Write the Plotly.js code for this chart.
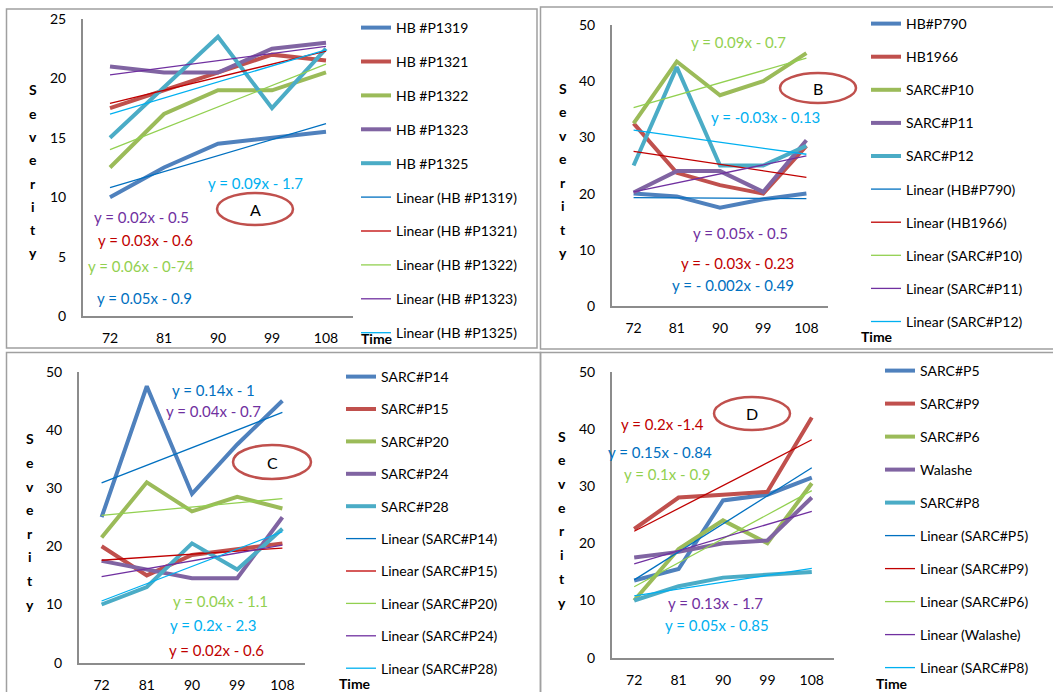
<!DOCTYPE html>
<html>
<head>
<meta charset="utf-8">
<script src="https://cdn.plot.ly/plotly-3.0.1.min.js"></script>
<style>html,body{margin:0;padding:0;background:#fff;}#chart{width:1053px;height:692px;}</style>
</head>
<body>
<div id="chart"></div>
<script>
// ---------- DATA ----------
const categories = ['72', '81', '90', '99', '108'];

// Panel A
const namesA = ['HB #P1319', 'HB #P1321', 'HB #P1322', 'HB #P1323', 'HB #P1325'];
const hbP1319 = [10, 12.5, 14.5, 15, 15.5];
const hbP1321 = [17.5, 19, 20.5, 22, 21.5];
const hbP1322 = [12.5, 17, 19, 19, 20.5];
const hbP1323 = [21, 20.5, 20.5, 22.5, 23];
const hbP1325 = [15, 19.3, 23.5, 17.5, 22.5];
const trendA = [[10.8, 16.2], [17.9, 22.3], [14.0, 21.2], [20.3, 22.7], [17.0, 22.4]];
const eqA = ['y = 0.05x - 0.9', 'y = 0.03x - 0.6', 'y = 0.06x - 0-74', 'y = 0.02x - 0.5', 'y = 0.09x - 1.7'];

// Panel B
const namesB = ['HB#P790', 'HB1966', 'SARC#P10', 'SARC#P11', 'SARC#P12'];
const hbP790 = [20, 19.5, 17.5, 19, 20];
const hb1966 = [32.5, 23.7, 21.5, 20, 28.5];
const sarcP10 = [32.5, 43.5, 37.5, 40, 45];
const sarcP11 = [20.2, 24, 24, 20.3, 29.5];
const sarcP12 = [25, 42.5, 25, 25, 28.5];
const trendB = [[19.3, 19.1], [27.5, 22.9], [35.3, 44.1], [20.3, 26.7], [31.3, 27.0]];
const eqB = ['y = - 0.002x - 0.49', 'y = - 0.03x - 0.23', 'y = 0.09x - 0.7', 'y = 0.05x - 0.5', 'y = -0.03x - 0.13'];

// Panel C
const namesC = ['SARC#P14', 'SARC#P15', 'SARC#P20', 'SARC#P24', 'SARC#P28'];
const sarcP14 = [25, 47.5, 29, 37.5, 45];
const sarcP15 = [20, 15, 18.5, 19.5, 20.5];
const sarcP20 = [21.5, 31, 26, 28.5, 26.5];
const sarcP24 = [17.5, 16, 14.5, 14.5, 25];
const sarcP28 = [10, 13, 20.5, 16, 23];
const trendC = [[30.9, 43.0], [17.6, 19.7], [25.3, 28.2], [14.8, 20.2], [10.6, 22.5]];
const eqC = ['y = 0.14x - 1', 'y = 0.02x - 0.6', 'y = 0.04x - 1.1', 'y = 0.04x - 0.7', 'y = 0.2x - 2.3'];

// Panel D
const namesD = ['SARC#P5', 'SARC#P9', 'SARC#P6', 'Walashe', 'SARC#P8'];
const sarcP5 = [13.5, 15.5, 27.5, 28.5, 31.5];
const sarcP9 = [22.5, 28, 28.5, 29, 42];
const sarcP6 = [10, 19, 24, 20, 30.5];
const walashe = [17.5, 18.5, 20, 20.5, 28];
const sarcP8 = [10, 12.5, 14, 14.5, 15];
const trendD = [[13.6, 33.2], [22.1, 38.1], [12.4, 29.2], [16.4, 25.6], [10.8, 15.6]];
const eqD = ['y = 0.15x - 0.84', 'y = 0.2x -1.4', 'y = 0.1x - 0.9', 'y = 0.13x - 1.7', 'y = 0.05x - 0.85'];

// ---------- STYLE ----------
const W = 1053, H = 692;
const px = x => x / W;
const py = y => 1 - y / H;
const FONT = 'Lato, "Open Sans", sans-serif';
const seriesColors = ['#4F81BD', '#C0504D', '#9BBB59', '#8064A2', '#4BACC6'];
const trendColors = ['#0070C0', '#C00000', '#92D050', '#7030A0', '#00B0F0'];

const panels = [
  { id: '', names: namesA, vals: [hbP1319, hbP1321, hbP1322, hbP1323, hbP1325], trend: trendA, eq: eqA,
    xd: [83, 353], yd: [316, 19], yr: [0, 25], dt: 5, legend: 'legend', lx: 356, ly: 12, gap: 12.7,
    eqPos: [[144, 298], [145, 240], [141, 266], [141, 217], [255, 183]],
    ell: [217, 193, 293, 225], label: 'A', sev: [33, 90, 253], time: [377, 338] },
  { id: '2', names: namesB, vals: [hbP790, hb1966, sarcP10, sarcP11, sarcP12], trend: trendB, eq: eqB,
    xd: [612, 828], yd: [306, 25], yr: [0, 50], dt: 10, legend: 'legend2', lx: 866, ly: 8, gap: 11.9,
    eqPos: [[733, 285], [737, 263], [738, 42], [740, 233], [765, 117]],
    ell: [780, 73, 856, 103], label: 'B', sev: [563, 88, 253], time: [877, 337] },
  { id: '3', names: namesC, vals: [sarcP14, sarcP15, sarcP20, sarcP24, sarcP28], trend: trendC, eq: eqC,
    xd: [79, 305], yd: [662.7, 371.7], yr: [0, 50], dt: 10, legend: 'legend3', lx: 341, ly: 361, gap: 11.2,
    eqPos: [[213, 390], [217, 650], [220, 601], [213, 411], [213, 625]],
    ell: [233, 445, 311, 479], label: 'C', sev: [30, 439, 604], time: [355, 683] },
  { id: '4', names: namesD, vals: [sarcP5, sarcP9, sarcP6, walashe, sarcP8], trend: trendD, eq: eqD,
    xd: [612, 834], yd: [657.7, 371.7], yr: [0, 50], dt: 10, legend: 'legend4', lx: 880, ly: 355, gap: 11.8,
    eqPos: [[660, 452], [662, 424], [667, 474], [715, 603], [717, 625]],
    ell: [714, 397, 790, 430], label: 'D', sev: [562, 436, 602], time: [892, 683] }
];

const data = [];
const shapes = [];
const annotations = [];
const layout = {
  width: W, height: H, margin: { l: 0, r: 0, t: 0, b: 0, autoexpand: false },
  paper_bgcolor: '#fff', plot_bgcolor: 'rgba(0,0,0,0)',
  font: { family: FONT, size: 14, color: '#000' },
  showlegend: true
};

panels.forEach((p, pi) => {
  const xa = 'x' + p.id, ya = 'y' + p.id;
  // thick series
  p.names.forEach((n, i) => {
    data.push({ type: 'scatter', mode: 'lines', x: categories, y: p.vals[i], name: n,
      xaxis: xa, yaxis: ya, legend: p.legend, legendgroup: p.legend + 's' + i,
      line: { color: seriesColors[i], width: 4 }, hoverinfo: 'skip' });
  });
  // trendlines
  p.names.forEach((n, i) => {
    data.push({ type: 'scatter', mode: 'lines', x: [categories[0], categories[4]], y: p.trend[i],
      name: 'Linear (' + n + ')', xaxis: xa, yaxis: ya, legend: p.legend, legendgroup: p.legend + 't' + i,
      line: { color: trendColors[i], width: 1.3 }, hoverinfo: 'skip' });
  });
  const axBase = { showline: true, linecolor: '#8C8C8C', linewidth: 2, showgrid: false, zeroline: false,
    ticks: '', fixedrange: true, tickfont: { family: FONT, size: 14, color: '#000' } };
  layout['xaxis' + p.id] = Object.assign({}, axBase, { domain: [px(p.xd[0]), px(p.xd[1])], anchor: ya,
    type: 'category', range: [-0.5, 4.5], ticklabelstandoff: 8 });
  layout['yaxis' + p.id] = Object.assign({}, axBase, { domain: [py(p.yd[0]), py(p.yd[1])], anchor: xa,
    range: p.yr, dtick: p.dt, tick0: 0, ticklabelstandoff: 12 });
  layout[p.legend] = { x: px(p.lx), y: py(p.ly), xanchor: 'left', yanchor: 'top',
    bgcolor: 'rgba(0,0,0,0)', borderwidth: 0, traceorder: 'grouped', tracegroupgap: p.gap,
    font: { family: FONT, size: 14, color: '#000' }, itemwidth: 30 };
  // equations
  p.eq.forEach((t, i) => {
    annotations.push({ text: t, x: px(p.eqPos[i][0]), y: py(p.eqPos[i][1]), xref: 'paper', yref: 'paper',
      showarrow: false, xanchor: 'center', yanchor: 'middle',
      font: { family: FONT, size: 15, color: trendColors[i] } });
  });
  // ellipse with label
  shapes.push({ type: 'circle', xref: 'paper', yref: 'paper', x0: px(p.ell[0]), x1: px(p.ell[2]),
    y0: py(p.ell[1]), y1: py(p.ell[3]), line: { color: '#C0504D', width: 2.5 } });
  annotations.push({ text: p.label, x: px((p.ell[0] + p.ell[2]) / 2), y: py((p.ell[1] + p.ell[3]) / 2),
    xref: 'paper', yref: 'paper', showarrow: false, xanchor: 'center', yanchor: 'middle',
    font: { family: FONT, size: 16, color: '#000' } });
  // Severity letters
  const letters = 'Severity'.split('');
  letters.forEach((c, k) => {
    const yy = p.sev[1] + (p.sev[2] - p.sev[1]) * k / (letters.length - 1);
    annotations.push({ text: '<b>' + c + '</b>', x: px(p.sev[0]), y: py(yy), xref: 'paper', yref: 'paper',
      showarrow: false, xanchor: 'center', yanchor: 'middle', font: { family: FONT, size: 14, color: '#000' } });
  });
  annotations.push({ text: '<b>Time</b>', x: px(p.time[0]), y: py(p.time[1]), xref: 'paper', yref: 'paper',
    showarrow: false, xanchor: 'center', yanchor: 'middle', font: { family: FONT, size: 14, color: '#000' } });
});

// panel borders
const border = { color: '#A0A0A0', width: 1.5 };
shapes.push({ type: 'rect', xref: 'paper', yref: 'paper', x0: px(6.5), x1: px(537), y0: py(9), y1: py(348), line: border });
shapes.push({ type: 'rect', xref: 'paper', yref: 'paper', x0: px(540.5), x1: px(1060), y0: py(7), y1: py(349), line: border });
shapes.push({ type: 'rect', xref: 'paper', yref: 'paper', x0: px(6.5), x1: px(540.5), y0: py(352.5), y1: py(700), line: border });
shapes.push({ type: 'rect', xref: 'paper', yref: 'paper', x0: px(540.5), x1: px(1060), y0: py(352.5), y1: py(700), line: border });

layout.shapes = shapes;
layout.annotations = annotations;

Plotly.newPlot('chart', data, layout, { displayModeBar: false, staticPlot: true });
</script>
</body>
</html>
